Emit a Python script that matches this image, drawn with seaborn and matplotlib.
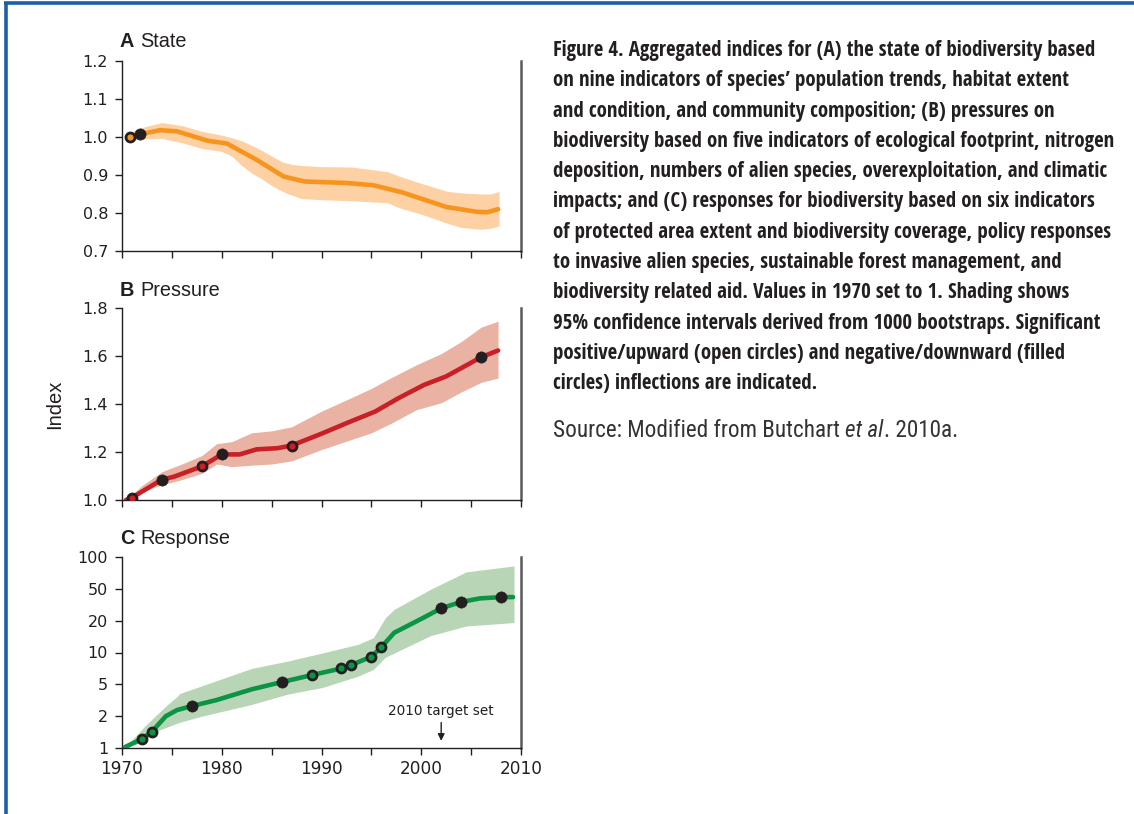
import numpy as np
import pandas as pd
import matplotlib
matplotlib.use("Agg")
import matplotlib.pyplot as plt
import seaborn as sns
from matplotlib import font_manager
from matplotlib.font_manager import FontProperties
from matplotlib.lines import Line2D

# ---------------- data ----------------
# A: State
state_years = [1970.8, 1971.8, 1973.8, 1975.5, 1978.6, 1980.5, 1983.5, 1986.2, 1988.3,
               1992.5, 1995.2, 1998.0, 2002.5, 2005.6, 2006.6, 2007.7]
state_vals = [1.000, 1.007, 1.018, 1.015, 0.990, 0.983, 0.940, 0.896, 0.883,
              0.879, 0.873, 0.855, 0.816, 0.803, 0.802, 0.810]
state_ci_years = [1970.7, 1972, 1974, 1976, 1978, 1980, 1981, 1982, 1983, 1984, 1985, 1986,
                  1987, 1988, 1990, 1993, 1996.6, 1998, 2000, 2002.6, 2004, 2006, 2007, 2007.8]
state_hi = [1.010, 1.025, 1.038, 1.030, 1.015, 1.005, 0.998, 0.990, 0.978, 0.965, 0.950, 0.935,
            0.928, 0.925, 0.922, 0.921, 0.909, 0.895, 0.878, 0.857, 0.853, 0.850, 0.850, 0.857]
state_lo = [0.990, 0.995, 0.996, 0.985, 0.970, 0.962, 0.950, 0.925, 0.905, 0.890, 0.872, 0.858,
            0.847, 0.838, 0.835, 0.832, 0.827, 0.812, 0.797, 0.773, 0.762, 0.757, 0.760, 0.766]
state_open_years, state_open_vals = [1970.8], [1.000]
state_fill_years, state_fill_vals = [1971.8], [1.007]

# B: Pressure
press_years = [1970.4, 1971, 1974, 1975.2, 1978, 1980, 1981.8, 1983.5, 1985.6, 1987,
               1990.1, 1992.5, 1995.4, 1997.7, 2000.3, 2002.5, 2006, 2007.7]
press_vals = [1.000, 1.010, 1.085, 1.097, 1.140, 1.190, 1.190, 1.211, 1.216, 1.227,
              1.278, 1.320, 1.369, 1.424, 1.480, 1.515, 1.595, 1.623]
press_ci_years = [1970.4, 1972, 1974, 1976, 1978, 1979.5, 1981, 1983, 1985, 1987, 1990,
                  1992.5, 1995, 1997, 1999.5, 2002, 2004, 2006, 2007.7]
press_hi = [1.000, 1.060, 1.118, 1.150, 1.185, 1.235, 1.243, 1.280, 1.288, 1.305, 1.370,
            1.417, 1.465, 1.510, 1.563, 1.610, 1.660, 1.720, 1.745]
press_lo = [1.000, 1.035, 1.063, 1.085, 1.111, 1.150, 1.139, 1.145, 1.150, 1.163, 1.210,
            1.245, 1.280, 1.320, 1.376, 1.405, 1.450, 1.490, 1.508]
press_open_years, press_open_vals = [1971, 1978, 1987], [1.010, 1.140, 1.227]
press_fill_years, press_fill_vals = [1974, 1980, 2006], [1.085, 1.190, 1.595]

# C: Response
resp_years = [1970.3, 1972, 1973, 1974.4, 1975.5, 1977, 1979.4, 1983, 1986, 1989, 1992, 1993,
              1995, 1996, 1997.3, 2000.2, 2002, 2004, 2005.9, 2008, 2009.2]
resp_vals = [1.02, 1.22, 1.43, 2.0, 2.38, 2.68, 3.16, 4.33, 5.25, 6.11, 7.07, 7.63,
             9.13, 11.25, 15.4, 21.7, 28.6, 34.3, 38.0, 39.4, 39.4]
resp_ci_years = [1970.3, 1972.3, 1973, 1974.4, 1975.5, 1975.8, 1978, 1983, 1986.6, 1990.1,
                 1993.7, 1995.2, 1996.4, 1997.3, 2000.9, 2004.5, 2009.3]
resp_hi = [1.02, 1.61, 1.87, 2.68, 3.5, 3.84, 4.79, 7.07, 8.29, 9.9, 11.97, 13.8, 21.7, 27.8,
           49.1, 72.3, 82.4]
resp_lo = [1.0, 1.16, 1.39, 1.56, 1.71, 1.75, 2.0, 2.8, 3.77, 4.57, 5.99, 6.92, 9.0, 9.9,
           14.4, 17.8, 19.2]
resp_open_years = [1972, 1973, 1989, 1992, 1993, 1995, 1996]
resp_open_vals = [1.22, 1.43, 6.11, 7.07, 7.63, 9.13, 11.25]
resp_fill_years = [1977, 1986, 2002, 2004, 2008]
resp_fill_vals = [2.68, 5.25, 28.6, 34.3, 39.4]

resp_ticks = [1, 2, 5, 10, 20, 50, 100]
resp_ticklabels = ["1", "2", "5", "10", "20", "50", "100"]
year_ticks = list(range(1970, 2011, 5))
year_ticklabels = ["1970", "", "1980", "", "1990", "", "2000", "", "2010"]

caption_lines = [
    "Figure 4. Aggregated indices for (A) the state of biodiversity based",
    "on nine indicators of species\u2019 population trends, habitat extent",
    "and condition, and community composition; (B) pressures on",
    "biodiversity based on five indicators of ecological footprint, nitrogen",
    "deposition, numbers of alien species, overexploitation, and climatic",
    "impacts; and (C) responses for biodiversity based on six indicators",
    "of protected area extent and biodiversity coverage, policy responses",
    "to invasive alien species, sustainable forest management, and",
    "biodiversity related aid. Values in 1970 set to 1. Shading shows",
    "95% confidence intervals derived from 1000 bootstraps. Significant",
    "positive/upward (open circles) and negative/downward (filled",
    "circles) inflections are indicated.",
]

# ---------------- style ----------------
sns.set_theme(style="white")
plt.rcParams["font.family"] = ["Liberation Sans", "DejaVu Sans"]
DARK = "#231f20"
TICKFONT = ["DejaVu Sans"]

W, H = 1134, 814
fig = plt.figure(figsize=(W / 100, H / 100), dpi=100)
fig.patch.set_facecolor("white")
renderer = fig.canvas.get_renderer()

# pick the narrowest installed sans face of a given weight for the caption
cand_names = {"Liberation Sans Narrow", "Roboto Condensed", "Open Sans Condensed",
              "DejaVu Sans", "Noto Sans", "Roboto", "Lato", "Inter", "Open Sans",
              "Liberation Sans"}


def _wnum(w):
    if isinstance(w, (int, float)):
        return int(w)
    return font_manager.weight_dict.get(str(w).lower(), 400)


def narrowest(weight_num, sample):
    best, bw = None, 1e9
    for f in font_manager.fontManager.ttflist:
        if f.name not in cand_names or f.style != "normal":
            continue
        if _wnum(f.weight) != weight_num:
            continue
        try:
            fp = FontProperties(fname=f.fname, size=12)
            t = fig.text(0, 0, sample, fontproperties=fp)
            w = t.get_window_extent(renderer).width
            t.remove()
        except Exception:
            continue
        if w < bw:
            bw, best = w, (f.name, f.stretch)
    return best or ("Liberation Sans", "normal")


cap_bold = narrowest(700, caption_lines[3])
cap_reg = narrowest(400, "Source: Modified from Butchart et al. 2010a.")


def ax_at(l, t, r, b):
    return fig.add_axes([l / W, 1 - b / H, (r - l) / W, (b - t) / H])


axA = ax_at(122, 61, 521, 251)
axB = ax_at(122, 308, 521, 500)
axC = ax_at(122, 557, 521, 748)

# custom equal-step scale for response panel (1-2-5 steps equally spaced)
_lognodes = np.array([-3.0, 0.0, np.log10(2), np.log10(5), 1.0, np.log10(20), np.log10(50), 2.0, 5.0])
_idx = np.array([-10.0, 0, 1, 2, 3, 4, 5, 6, 16])


def _fwd(v):
    v = np.clip(np.asarray(v, dtype=float), 1e-3, None)
    return np.interp(np.log10(v), _lognodes, _idx)


def _inv(u):
    return 10 ** np.interp(np.asarray(u, dtype=float), _idx, _lognodes)


def draw(ax, yrs, vals, cyrs, lo, hi, lc, bc, oy, ov, fy, fv):
    ax.fill_between(cyrs, lo, hi, color=bc, lw=0, zorder=1)
    sns.lineplot(x=yrs, y=vals, ax=ax, color=lc, lw=3.3, zorder=3, estimator=None, sort=False)
    sns.scatterplot(x=oy, y=ov, ax=ax, s=42, color=lc, edgecolor=DARK, linewidth=2.0, zorder=5)
    sns.scatterplot(x=fy, y=fv, ax=ax, s=66, color=DARK, edgecolor=DARK, linewidth=0.4, zorder=5)


draw(axA, state_years, state_vals, state_ci_years, state_lo, state_hi, "#f7941d", "#fdd1a3",
     state_open_years, state_open_vals, state_fill_years, state_fill_vals)
draw(axB, press_years, press_vals, press_ci_years, press_lo, press_hi, "#c91f27", "#e9b2a2",
     press_open_years, press_open_vals, press_fill_years, press_fill_vals)
axC.set_yscale("function", functions=(_fwd, _inv))
draw(axC, resp_years, resp_vals, resp_ci_years, resp_lo, resp_hi, "#0b9444", "#b8d6b5",
     resp_open_years, resp_open_vals, resp_fill_years, resp_fill_vals)

axA.set_ylim(0.7, 1.2)
axA.set_yticks([0.7, 0.8, 0.9, 1.0, 1.1, 1.2])
axA.set_yticklabels(["0.7", "0.8", "0.9", "1.0", "1.1", "1.2"])
axB.set_ylim(1.0, 1.8)
axB.set_yticks([1.0, 1.2, 1.4, 1.6, 1.8])
axB.set_yticklabels(["1.0", "1.2", "1.4", "1.6", "1.8"])
axC.set_ylim(1, 100)
axC.set_yticks(resp_ticks)
axC.set_yticklabels(resp_ticklabels)
axC.yaxis.set_minor_locator(matplotlib.ticker.NullLocator())

for ax in (axA, axB, axC):
    ax.set_xlim(1970, 2010)
    ax.set_xticks(year_ticks)
    ax.set_xlabel("")
    ax.set_ylabel("")
    ax.set_facecolor("white")
    ax.spines["top"].set_visible(False)
    for s in ("left", "bottom"):
        ax.spines[s].set_color(DARK)
        ax.spines[s].set_linewidth(1.0)
    ax.spines["right"].set_color("#5a5a5a")
    ax.spines["right"].set_linewidth(1.8)
    ax.tick_params(axis="both", which="major", direction="out", length=5, width=1.0,
                   color=DARK, left=True, bottom=True, pad=5, labelcolor=DARK)
    ax.tick_params(axis="y", labelsize=11.5)
    ax.tick_params(axis="x", labelsize=12.2, pad=4)
    ax.grid(False)

axA.set_xticklabels([""] * len(year_ticks))
axB.set_xticklabels([""] * len(year_ticks))
axC.set_xticklabels(year_ticklabels, family=TICKFONT, fontsize=12.2)
for ax in (axA, axB, axC):
    for lab in ax.get_yticklabels():
        lab.set_family(TICKFONT)

# annotation in panel C
axC.annotate("", xy=(2002, 1.1), xytext=(2002, 1.85),
             arrowprops=dict(arrowstyle="-|>", color=DARK, lw=1.0, mutation_scale=10))
axC.text(2002, 2.3, "2010 target set", ha="center", va="center", fontsize=9.8,
         family=TICKFONT, color=DARK)

# panel titles
def panel_title(x, y, letter, word):
    t = fig.text(x / W, 1 - y / H, letter, fontsize=14.3, fontweight="heavy",
                 va="baseline", ha="left", color=DARK)
    bb = t.get_window_extent(renderer)
    fig.text((bb.x1 + 6) / W, 1 - y / H, word, fontsize=14.3, va="baseline",
             ha="left", color=DARK)


panel_title(120, 47, "A", "State")
panel_title(120, 296, "B", "Pressure")
panel_title(120, 544, "C", "Response")

fig.text(55 / W, 1 - 404 / H, "Index", rotation=90, fontsize=14.5, ha="center",
         va="center", color=DARK)

# caption
texts = []
for i, line in enumerate(caption_lines):
    y = 56 + i * 30.3
    fp = FontProperties(family=cap_bold[0], weight="bold", stretch=cap_bold[1], size=12)
    t = fig.text(553 / W, 1 - y / H, line, fontproperties=fp,
                 va="baseline", ha="left", color=DARK)
    texts.append(t)
ref_w = texts[3].get_window_extent(renderer).width
size = 12 * 563 / ref_w
for t in texts:
    t.set_fontsize(size)

# source line with italic "et al"
src_parts = [("Source: Modified from Butchart ", "normal"), ("et al", "italic"), (". 2010a.", "normal")]
src_texts = []
x = 553
for s, style in src_parts:
    fp = FontProperties(family=cap_reg[0], weight="normal", stretch=cap_reg[1],
                        style=style, size=12)
    t = fig.text(x / W, 1 - 437 / H, s, fontproperties=fp,
                 va="baseline", ha="left", color="#333333")
    src_texts.append(t)
    x = t.get_window_extent(renderer).x1
total = src_texts[-1].get_window_extent(renderer).x1 - 553
ssize = min(12 * 402 / total, size * 1.2)
x = 553
for t in src_texts:
    t.set_fontsize(ssize)
    t.set_x(x / W)
    x = t.get_window_extent(renderer).x1

# blue frame
fig.add_artist(Line2D([5.5 / W, 5.5 / W], [0, 1 - 2.5 / H], transform=fig.transFigure,
                      color="#1c5ea8", lw=2.6, solid_capstyle="butt"))
fig.add_artist(Line2D([4 / W, 1], [1 - 3 / H, 1 - 3 / H], transform=fig.transFigure,
                      color="#1c5ea8", lw=2.6, solid_capstyle="butt"))

fig.savefig("out.png", dpi=100, facecolor="white")
